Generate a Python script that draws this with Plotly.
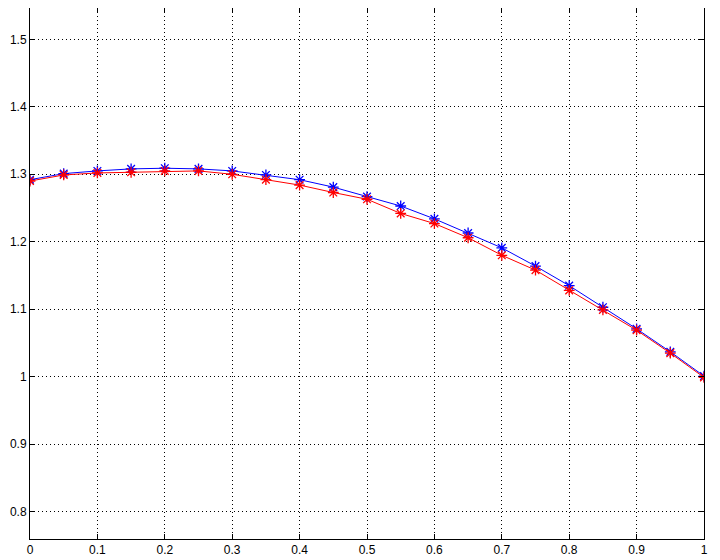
import plotly.graph_objects as go

x_vals = [0, 0.05, 0.1, 0.15, 0.2, 0.25, 0.3, 0.35, 0.4, 0.45, 0.5,
          0.55, 0.6, 0.65, 0.7, 0.75, 0.8, 0.85, 0.9, 0.95, 1.0]
blue_vals = [1.292, 1.301, 1.305, 1.308, 1.309, 1.308, 1.305, 1.299, 1.292, 1.281, 1.267,
             1.253, 1.234, 1.213, 1.191, 1.164, 1.135, 1.103, 1.071, 1.037, 1.001]
red_vals = [1.290, 1.299, 1.302, 1.303, 1.305, 1.305, 1.300, 1.292, 1.284, 1.273, 1.263,
            1.242, 1.227, 1.206, 1.180, 1.158, 1.128, 1.099, 1.069, 1.035, 0.999]

x_ticks = [0, 0.1, 0.2, 0.3, 0.4, 0.5, 0.6, 0.7, 0.8, 0.9, 1]
x_ticktext = ["0", "0.1", "0.2", "0.3", "0.4", "0.5", "0.6", "0.7", "0.8", "0.9", "1"]
y_ticks = [0.8, 0.9, 1.0, 1.1, 1.2, 1.3, 1.4, 1.5]
y_ticktext = ["0.8", "0.9", "1", "1.1", "1.2", "1.3", "1.4", "1.5"]

fig = go.Figure()
fig.add_trace(go.Scatter(
    x=x_vals, y=blue_vals, mode="lines+markers",
    line=dict(color="#0000ff", width=1),
    marker=dict(symbol="asterisk-open", size=9, line=dict(color="#0000ff", width=1.3)),
))
fig.add_trace(go.Scatter(
    x=x_vals, y=red_vals, mode="lines+markers",
    line=dict(color="#ff0000", width=1),
    marker=dict(symbol="asterisk-open", size=9, line=dict(color="#ff0000", width=1.3)),
))

axis_common = dict(
    showline=True, linecolor="black", linewidth=1, mirror="ticks",
    ticks="inside", ticklen=5, tickcolor="black",
    showgrid=True, gridcolor="black", gridwidth=1, griddash="1px,3px",
    zeroline=False, automargin=False,
    tickfont=dict(family="Liberation Sans, Arial, sans-serif", size=12, color="black"),
)

# page body has an 8px default margin, so the figure is sized to fit inside it
fig.update_layout(
    width=712, height=552,
    margin=dict(l=22, r=16, t=0, b=21),
    paper_bgcolor="white", plot_bgcolor="white",
    showlegend=False,
    xaxis=dict(range=[0, 1], tickvals=x_ticks, ticktext=x_ticktext, **axis_common),
    yaxis=dict(range=[0.7596, 1.5464], tickvals=y_ticks, ticktext=y_ticktext, **axis_common),
)

fig.write_html("out.html")
